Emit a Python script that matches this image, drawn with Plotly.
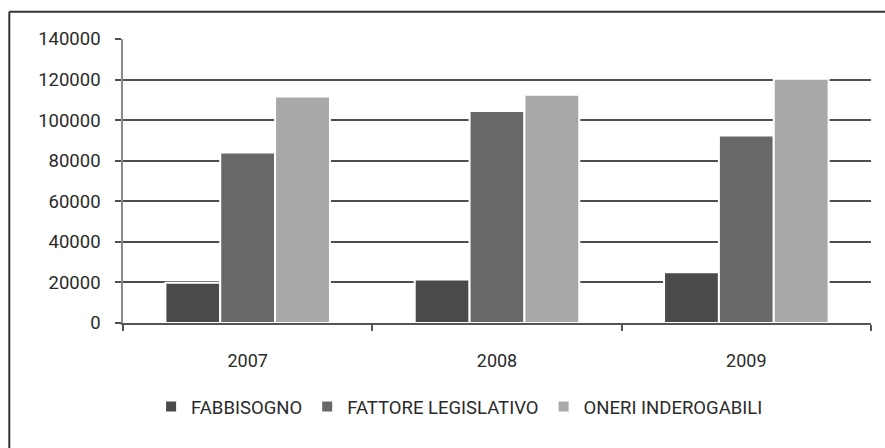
import plotly.graph_objects as go

years = ["2007", "2008", "2009"]
fabbisogno = [19800, 21400, 25000]
fattore_legislativo = [84100, 104500, 92400]
oneri_inderogabili = [111700, 112500, 120400]
series_names = ["FABBISOGNO", "FATTORE LEGISLATIVO", "ONERI INDEROGABILI"]
series_colors = ["#4a4a4a", "#686868", "#a8a8a8"]
y_ticks = [0, 20000, 40000, 60000, 80000, 100000, 120000, 140000]

fig = go.Figure()
for name, vals, col in zip(series_names, [fabbisogno, fattore_legislativo, oneri_inderogabili], series_colors):
    fig.add_trace(go.Bar(
        x=years, y=vals, name=name,
        marker=dict(color=col, line=dict(color="white", width=2)),
    ))

FONT = "Roboto"
fig.update_layout(
    width=885, height=448,
    margin=dict(l=123, r=14, t=39, b=125, autoexpand=False),
    paper_bgcolor="white", plot_bgcolor="white",
    barmode="group", bargap=0.34, bargroupgap=0.0,
    font=dict(family=FONT, color="#2a2a2a"),
    showlegend=True,
    legend=dict(
        orientation="h", x=0.45, xanchor="center",
        yref="container", y=1 - 407 / 448, yanchor="middle",
        font=dict(family=FONT, size=18.5, color="#2a2a2a"),
        itemwidth=30, bgcolor="rgba(0,0,0,0)",
    ),
    xaxis=dict(
        type="category", showgrid=False, showline=True, linecolor="#555555", linewidth=1.5,
        ticks="outside", tickson="boundaries", ticklen=6, tickcolor="#555555", tickwidth=1.5,
        tickfont=dict(family=FONT, size=18, color="#2a2a2a"),
        ticklabelstandoff=21,
    ),
    yaxis=dict(
        range=[0, 140000], tickvals=y_ticks, ticktext=[str(v) for v in y_ticks],
        showgrid=True, gridcolor="#4f4f4f", gridwidth=1.5,
        showline=True, linecolor="#8a8a8a", linewidth=1.5,
        ticks="outside", ticklen=6, tickcolor="#4f4f4f", tickwidth=1.5,
        tickfont=dict(family=FONT, size=18.5, color="#2a2a2a"),
        ticklabelstandoff=11,
        zeroline=False,
    ),
    shapes=[
        dict(type="line", xref="paper", yref="paper", x0=-0.152, x1=1.2, y0=1.096, y1=1.096,
             line=dict(color="#333333", width=2)),
        dict(type="line", xref="paper", yref="paper", x0=-0.152, x1=-0.152, y0=1.096, y1=-0.6,
             line=dict(color="#333333", width=2)),
    ],
)

fig.write_html("out.html")
